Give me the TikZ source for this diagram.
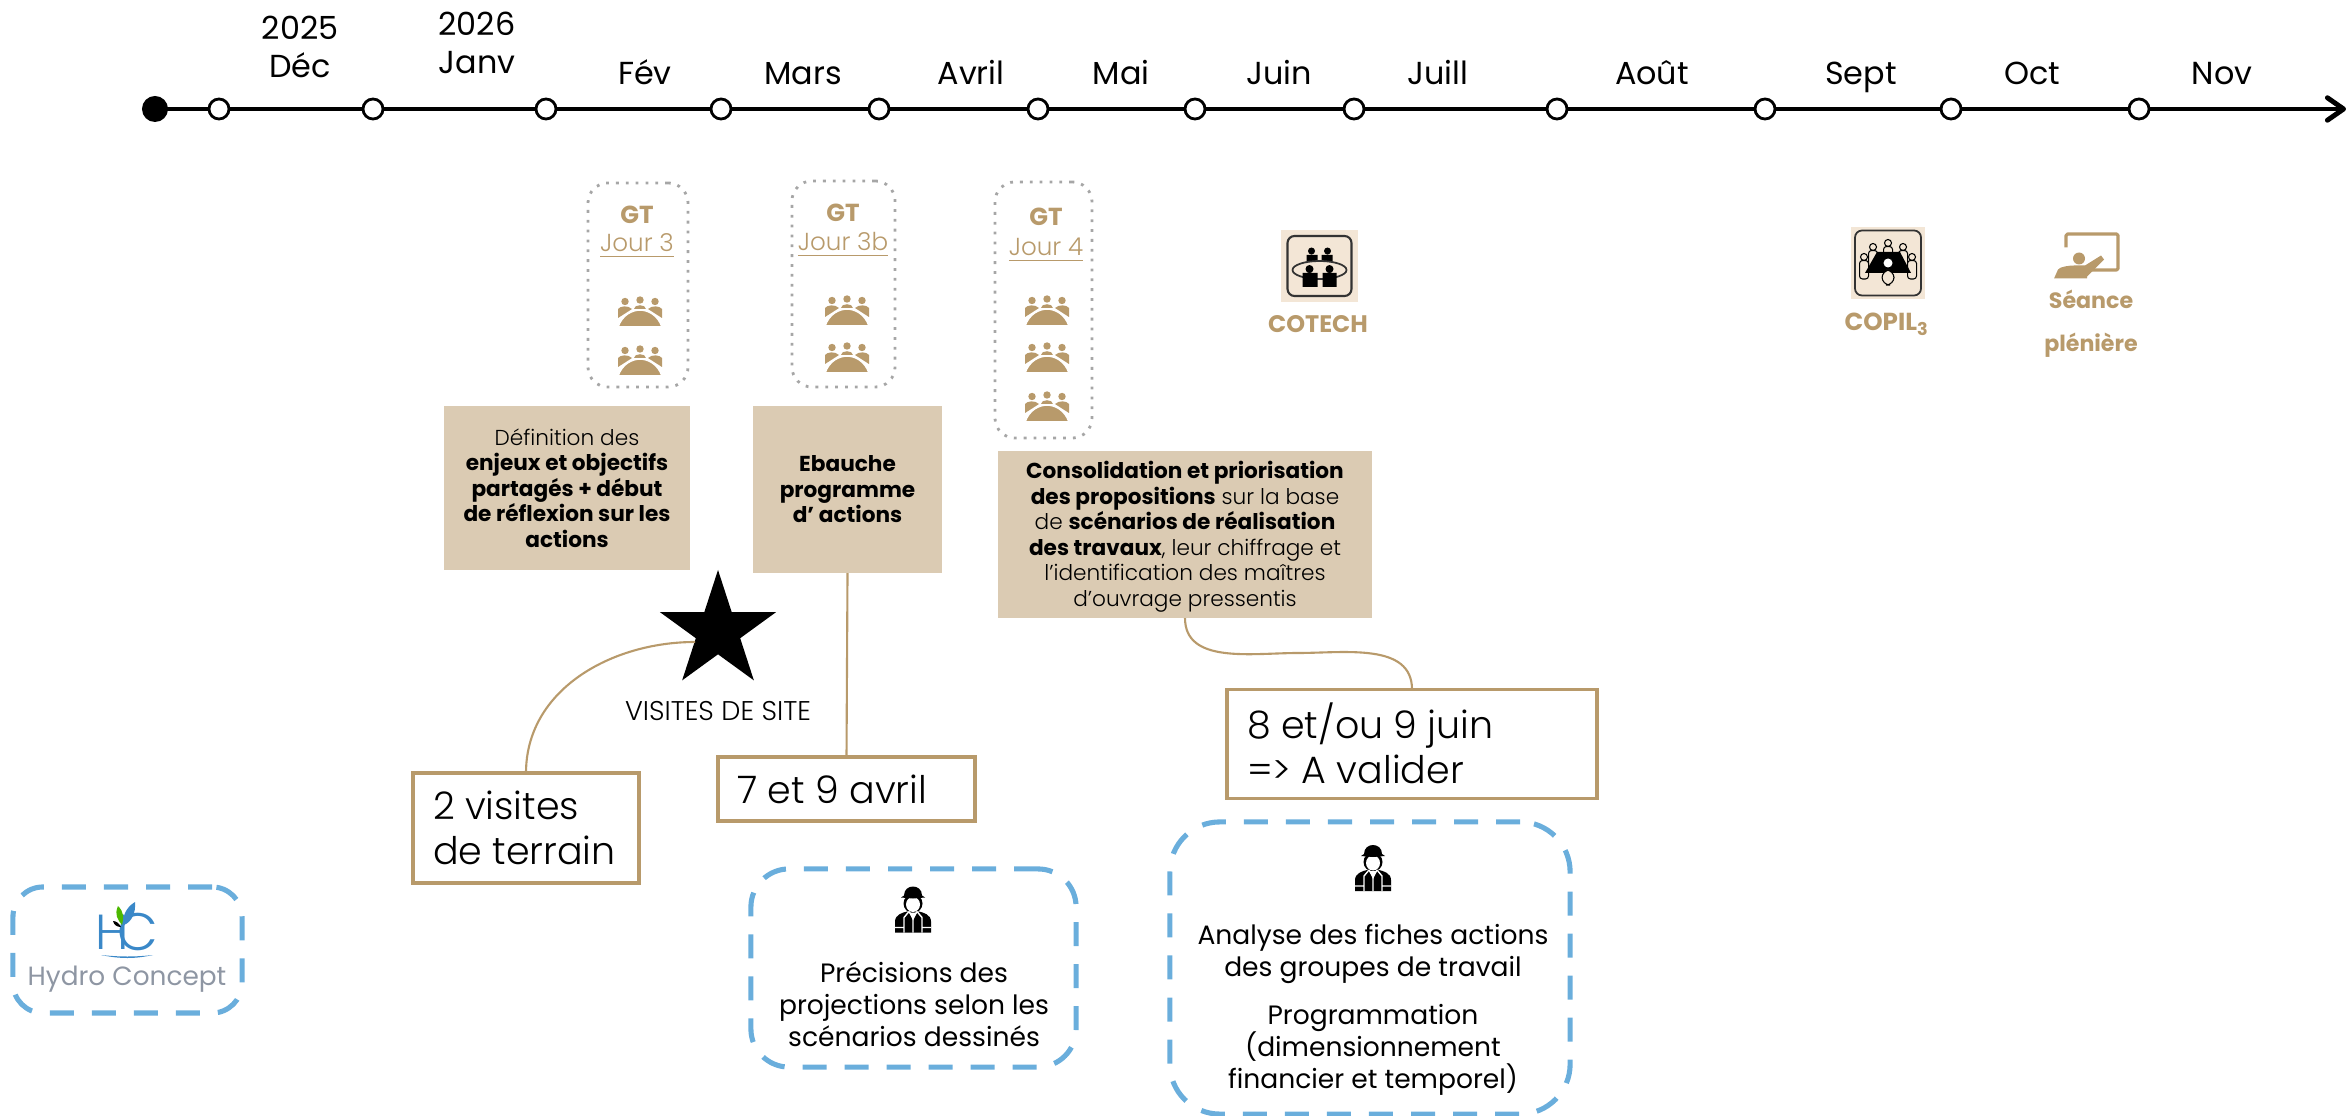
\documentclass[tikz,border=0pt]{standalone}
\usepackage{fontspec}
\setmainfont{Poppins}
\newfontfamily\legere{Poppins Light}
\newcommand{\gras}[1]{{\normalfont\bfseries #1}}
\usetikzlibrary{arrows.meta,shapes.geometric}
\definecolor{or}{HTML}{B89A6B}
\definecolor{sable}{HTML}{DBCBB3}
\definecolor{beige}{HTML}{F3E6D6}
\definecolor{bleu}{HTML}{6AAEDC}
\definecolor{bleulogo}{HTML}{3A88C8}
\definecolor{gris}{HTML}{8E96A3}
\tikzset{
	every node/.style={inner sep=0pt,outer sep=0pt,align=center},
	axe/.style={line width=1.4pt,-{Straight Barb[round,length=4.6pt,width=6.4pt]}},
	jalon/.style={circle,draw,fill=white,line width=.8pt,minimum size=.2cm},
	mois/.style={anchor=base,font=\fontsize{9.05}{11}\selectfont},
	gt/.style={draw=gray!70,dotted,line width=.8pt,rounded corners=.2cm},
	titre/.style={text=or,font=\fontsize{7}{8.5}\selectfont\bfseries},
	jour/.style={text=or,font=\legere\fontsize{7}{8.5}\selectfont},
	desc/.style={fill=sable,font=\legere\fontsize{6.15}{7.25}\selectfont},
	rdv/.style={draw=or,line width=1.1pt},
	gros/.style={font=\legere\fontsize{10.8}{12.9}\selectfont},
	lien/.style={draw=or,line width=.6pt},
	tiret/.style={draw=bleu,line width=1.45pt,dash pattern=on .24cm off .18cm},
	note/.style={font=\fontsize{7.55}{9.1}\selectfont},
	reunion/.pic={
		\fill[or] (-15,-10.5) circle (3.7) (0,-12) circle (3.7) (15,-10.5) circle (3.7);
		\fill[or] (-6,-3) .. controls (-6,-8) and (6,-8) .. (6,-3) -- cycle;
		\fill[or] (-22,6) -- (-22,-3) .. controls (-20,-6) and (-12,-7) .. (-8,-3) -- cycle;
		\fill[or] (22,6) -- (22,-3) .. controls (20,-6) and (12,-7) .. (8,-3) -- cycle;
		\filldraw[or,draw=white,line width=.45pt] (-22,15) .. controls (-18,3) and (-8,-2) .. (0,-2) .. controls (8,-2) and (18,3) .. (22,15) -- cycle;
	},
	ouvrier/.pic={
		\fill (-18,23) -- (-18,12) .. controls (-18,5) and (-10,3) .. (-6,2) -- (6,2) .. controls (10,3) and (18,5) .. (18,12) -- (18,23) -- cycle;
		\fill (0,-6) ellipse (9.5 and 9.5);
		\fill[white] (0,-5) ellipse (7 and 7.5);
		\fill (-12,-12) -- (-9,-14) .. controls (-9,-26) and (9,-26) .. (9,-14) -- (12,-12) -- (0,-11) -- cycle;
		\draw[white,line width=.4pt] (-9,23) -- (-9,8) -- (-4,2) (9,23) -- (9,8) -- (4,2) (0,23) -- (0,8) (-4,2) -- (0,8) -- (4,2) (-18,18) -- (-9,18) (9,18) -- (18,18);
		\fill[white] (-4,3) -- (4,3) -- (0,11) -- cycle;
	},
	cotech/.pic={
		\fill[beige] (-38.5,-36) rectangle (38.5,36);
		\draw[black!80,line width=.6pt,rounded corners=.07cm] (-32,-30) rectangle (32,30);
		\fill (-8,-15) circle (3.5) (8,-15) circle (3.5) (-13,-11) rectangle (-2,-3) (2,-11) rectangle (13,-3);
		\draw[black!80,fill=beige,line width=.5pt] (0,4) ellipse (27 and 9);
		\fill (-10,3) circle (4) (10,3) circle (4) (-17,7) rectangle (-2,21) (3,7) rectangle (17,21);
	},
	copil/.pic={
		\fill[beige] (-37,-36) rectangle (37,36);
		\draw[black!80,line width=.5pt,rounded corners=.07cm] (-33,-32.5) rectangle (33,32.5);
		\foreach \px/\py in {0/-20,-15/-16,15/-16,-24/-6,24/-6} {
			\draw[line width=.3pt,fill=beige] (\px,\py) circle (3.5);
			\draw[line width=.3pt,fill=beige,rounded corners=.03cm] (\px-4.5,\py+3.5) rectangle (\px+4.5,\py+22);
		}
		\fill (-11,-11) -- (12,-11) -- (23,10) -- (-23,10) -- cycle;
		\fill[white] (0,0) circle (4.5);
		\draw[line width=.3pt,fill=beige,rounded corners=.08cm] (-6,7) rectangle (6,22);
	},
	plenier/.pic={
		\draw[or,line width=.9pt,line join=round,rounded corners=.015cm] (0,12) -- (0,-1.5) -- (52,-1.5) -- (52,34.5) -- (24,34.5);
		\fill[or] (13,23) circle (6);
		\fill[or] (-12,43) -- (-8,34) .. controls (-6,31) and (4,30) .. (8,30) -- (19,30) -- (35,20) -- (38,24) -- (21,41) -- (21,43) -- cycle;
	}
}
\begin{document}
\begin{tikzpicture}[x=.01cm,y=-.01cm]
	\useasboundingbox (0,0) rectangle (2346,1116);
	% frise
	\coordinate (debut) at (155,109);
	\coordinate (fin) at (2346,109);
	\draw[axe] (debut) -- (fin);
	\node[circle,fill=black,minimum size=.26cm] (origine) at (debut) {};
	\foreach \x [count=\i] in {219,373,546,721,879,1038,1195,1354,1557,1765,1951,2139}
		\node[jalon] (j\i) at (\x,109) {};
	\node[mois] (an1) at (300,40) {2025};
	\node[mois] (m1) at (300,78) {Déc};
	\node[mois] (an2) at (477,36) {2026};
	\node[mois] (m2) at (477,74) {Janv};
	\foreach \x/\t [count=\i from 3] in {645/Fév,803/Mars,971/Avril,1121/Mai,1279/Juin,1438/Juill,1652/Août,1861/Sept,2032/Oct,2222/Nov}
		\node[mois] (m\i) at (\x,85) {\t};

	% groupes de travail
	\node[gt,minimum width=1cm,minimum height=2.04cm] (gt3) at (638,285) {};
	\node[titre] (gt3t) at (637,215) {GT};
	\node[jour] (gt3j) at (637,246) {\underline{Jour 3}};
	\pic at (640,312) {reunion};
	\pic at (640,361) {reunion};
	\node[gt,minimum width=1.03cm,minimum height=2.06cm] (gt3b) at (843.5,284) {};
	\node[titre] (gt3bt) at (843,213) {GT};
	\node[jour] (gt3bj) at (843,245) {\underline{Jour 3b}};
	\pic at (847,311) {reunion};
	\pic at (847,358) {reunion};
	\node[gt,minimum width=.97cm,minimum height=2.56cm] (gt4) at (1043.5,310) {};
	\node[titre] (gt4t) at (1046,217) {GT};
	\node[jour] (gt4j) at (1046,250) {\underline{Jour 4}};
	\pic at (1047,311) {reunion};
	\pic at (1047,358) {reunion};
	\pic at (1047,407) {reunion};

	\pic at (1319.5,266) {cotech};
	\node[titre,font=\fontsize{6.8}{8}\selectfont\bfseries] (cotech) at (1318,324) {COTECH};
	\pic at (1888,263) {copil};
	\node[titre] (copil) at (1887,324) {COPIL$_{\mathbf 3}$};
	\pic at (2066,235.5) {plenier};
	\node[titre,anchor=base,font=\fontsize{6.3}{8}\selectfont\bfseries] (seance) at (2091,309) {Séance};
	\node[titre,anchor=base,font=\fontsize{6.3}{8}\selectfont\bfseries] (pleniere) at (2091,352) {plénière};

	% descriptions
	\node[desc,minimum width=2.46cm,minimum height=1.64cm] (d3) at (567,488) {Définition des\\\gras{enjeux et objectifs}\\\gras{partagés + début}\\\gras{de réflexion sur les}\\\gras{actions}};
	\node[desc,minimum width=1.89cm,minimum height=1.67cm,anchor=north] (d3b) at (847.5,406) {\gras{Ebauche}\\\gras{programme}\\\gras{d’ actions}};
	\node[desc,minimum width=3.74cm,minimum height=1.67cm] (d4) at (1185,534.5) {\rule{0pt}{6.3pt}\gras{Consolidation et priorisation}\\\gras{des propositions} sur la base\\de \gras{scénarios de réalisation}\\\gras{des travaux}, leur chiffrage et\\l’identification des maîtres\\d’ouvrage pressentis};

	% visites
	\node[star,star points=5,star point ratio=2.618,fill=black,minimum size=1.22cm] (etoile) at (718,631) {};
	\coordinate (etoile_g) at (695,642);
	\node[font=\legere\fontsize{7.7}{9}\selectfont] (visites) at (718,711) {VISITES DE SITE};
	\node[rdv,minimum width=2.26cm,minimum height=1.1cm] (terrain) at (526,828) {};
	\node[gros,anchor=west,align=left] (terraint) at (433,828) {2 visites\\de terrain};
	\node[rdv,minimum width=2.57cm,minimum height=.64cm] (avril) at (846.5,789) {};
	\node[gros] (avrilt) at (832,789) {7 et 9 avril};
	\node[rdv,minimum width=3.7cm,minimum height=1.09cm] (juin) at (1412,744) {};
	\node[gros,anchor=west,align=left] (juint) at (1247,743) {8 et/ou 9 juin\\=> A valider};
	\coordinate (d4_m) at (1298,653);
	\draw[lien] (terrain.north) to[out=90,in=180] (etoile_g);
	\draw[lien] (d3b.south) -- (avril.north);
	\draw[lien] (d4.south) to[out=-90,in=180] (d4_m) to[out=0,in=90] (juin.north);

	% bureau d'etudes
	\node[tiret,rounded corners=.3cm,minimum width=2.29cm,minimum height=1.26cm] (hc) at (127.5,950) {};
	\fill[bleulogo] (101,955) .. controls (120,957) and (135,957) .. (153,955) .. controls (135,959) and (120,959) .. (101,955) -- cycle;
	\node[text=bleulogo,font=\legere\fontsize{14}{14}\selectfont] (hch) at (112,932) {H};
	\node[text=bleulogo,font=\legere\fontsize{15}{15}\selectfont] (hcc) at (138,932) {C};
	\fill[green!60!black!70!yellow] (118,906) .. controls (114,915) and (118,920) .. (122,925) .. controls (124,918) and (124,912) .. (118,906) -- cycle;
	\fill[bleulogo] (135,902) .. controls (125,908) and (122,918) .. (124,925) .. controls (132,922) and (136,912) .. (135,902) -- cycle;
	\fill (113,921) .. controls (116,921) and (119,923) .. (121,927) .. controls (117,927) and (114,925) .. (113,921) -- cycle;
	\node[text=gris,font=\fontsize{7.5}{9}\selectfont] (hct) at (127,979) {Hydro Concept};

	\node[tiret,rounded corners=.38cm,minimum width=3.25cm,minimum height=1.98cm] (be1) at (913.5,968) {};
	\pic at (913,909.5) {ouvrier};
	\node[note] (be1t) at (914,1004) {Précisions des\\projections selon les\\scénarios dessinés};

	\node[tiret,rounded corners=.5cm,minimum width=4cm,minimum height=2.92cm] (be2) at (1370,968) {};
	\pic at (1373,868) {ouvrier};
	\node[note] (be2a) at (1373,954) {Analyse des fiches actions\\des groupes de travail};
	\node[note] (be2b) at (1373,1050) {Programmation\\(dimensionnement\\financier et temporel)};
\end{tikzpicture}
\end{document}
